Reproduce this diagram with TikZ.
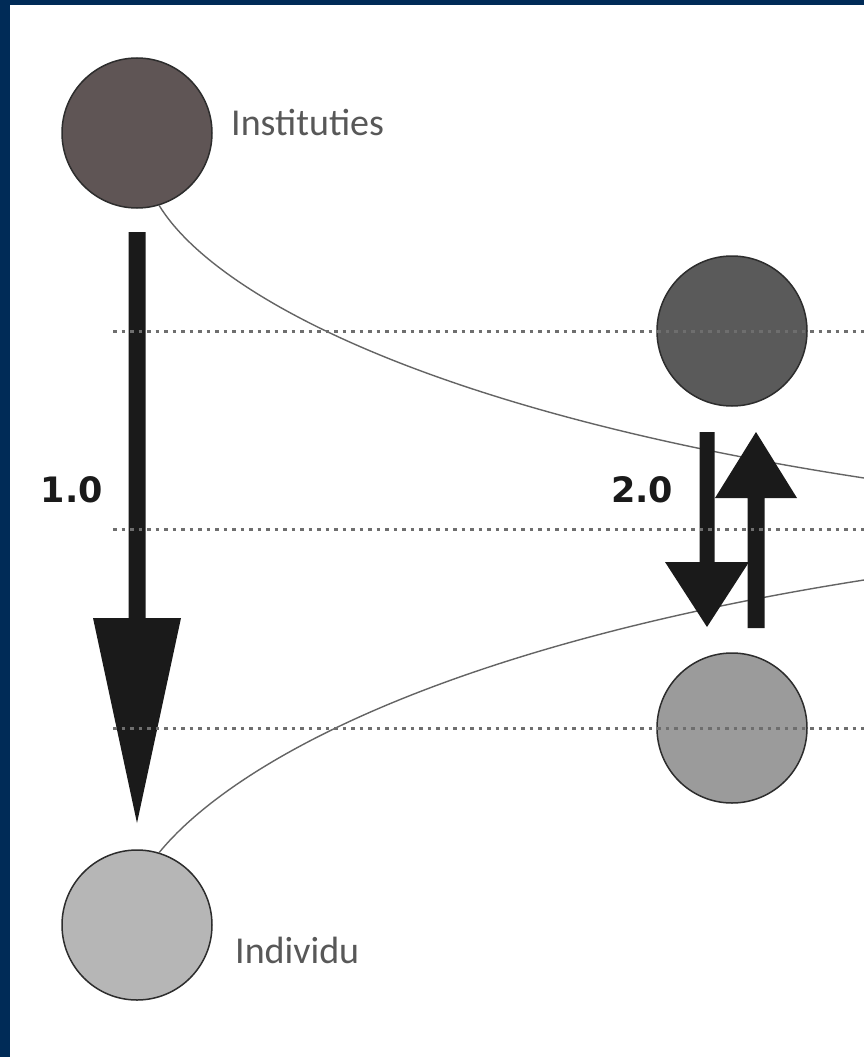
\documentclass[tikz,border=0pt]{standalone}
\usepackage{fontspec}
\newfontfamily\labelfont{Carlito}
\newfontfamily\numfont{DejaVu Sans}
\definecolor{navy}{RGB}{0,43,87}
\definecolor{instfill}{RGB}{95,85,85}
\definecolor{topfill}{RGB}{90,90,90}
\definecolor{botfill}{RGB}{155,155,155}
\definecolor{indfill}{RGB}{182,182,182}
\definecolor{circlerim}{RGB}{45,45,45}
\definecolor{arrowblack}{RGB}{26,26,26}
\definecolor{textgray}{RGB}{88,88,88}
\definecolor{guidegray}{RGB}{110,110,110}
\definecolor{curvegray}{RGB}{100,100,100}
\begin{document}
\begin{tikzpicture}[x=1pt,y=-1pt,
  disc/.style={circle, draw=circlerim, line width=1.5pt, minimum size=150pt, inner sep=0pt},
  guide/.style={draw=guidegray, line width=3pt, dash pattern=on 3.5pt off 5pt},
  flow/.style={draw=curvegray, line width=1.4pt},
  bigarrow/.style={fill=arrowblack, draw=none},
  lbl/.style={font=\labelfont\fontsize{38}{40}\selectfont, text=textgray, inner sep=0pt, anchor=base west},
  num/.style={font=\numfont\bfseries\fontsize{35}{38}\selectfont, text=arrowblack, inner sep=0pt}
]
\useasboundingbox (0,0) rectangle (864,1057);
% frame
\fill[navy] (0,0) rectangle (864,1057);
\fill[white] (10,5) rectangle (864,1057);
% circles
\node[disc, fill=instfill] (inst) at (137,133) {};
\node[disc, fill=indfill] (indiv) at (137,925) {};
\node[disc, fill=topfill] (mtop) at (732,331) {};
\node[disc, fill=botfill] (mbot) at (732,728) {};
% curve end points at the right edge
\coordinate (eUp) at (864,478);
\coordinate (eLo) at (864,580);
% curves
\draw[flow] (inst.-73) .. controls (212,292) and (420,410) .. (eUp);
\draw[flow] (indiv.73) .. controls (225,772) and (420,650) .. (eLo);
% left arrow
\fill[bigarrow] (128.5,232) -- (145.5,232) -- (145.5,618) -- (181,618) -- (137,823) -- (93,618) -- (128.5,618) -- cycle;
% middle down arrow
\fill[bigarrow] (699.5,432) -- (714.5,432) -- (714.5,562) -- (749,562) -- (707,627) -- (665,562) -- (699.5,562) -- cycle;
% middle up arrow
\fill[bigarrow] (747.5,628) -- (764.5,628) -- (764.5,498) -- (797,498) -- (756,432) -- (715,498) -- (747.5,498) -- cycle;
% dotted guide lines
\coordinate (g1a) at (113,331); \coordinate (g1b) at (864,331);
\coordinate (g2a) at (113,529); \coordinate (g2b) at (864,529);
\coordinate (g3a) at (113,728); \coordinate (g3b) at (864,728);
\draw[guide] (g1a) -- (g1b);
\draw[guide] (g2a) -- (g2b);
\draw[guide] (g3a) -- (g3b);
% labels
\node[lbl] (tinst) at (231,135) {Instituties};
\node[lbl] (tind) at (235,963) {Individu};
\node[num] (n1) at (72,490) {1.0};
\node[num] (n2) at (642,490) {2.0};
\end{tikzpicture}
\end{document}
